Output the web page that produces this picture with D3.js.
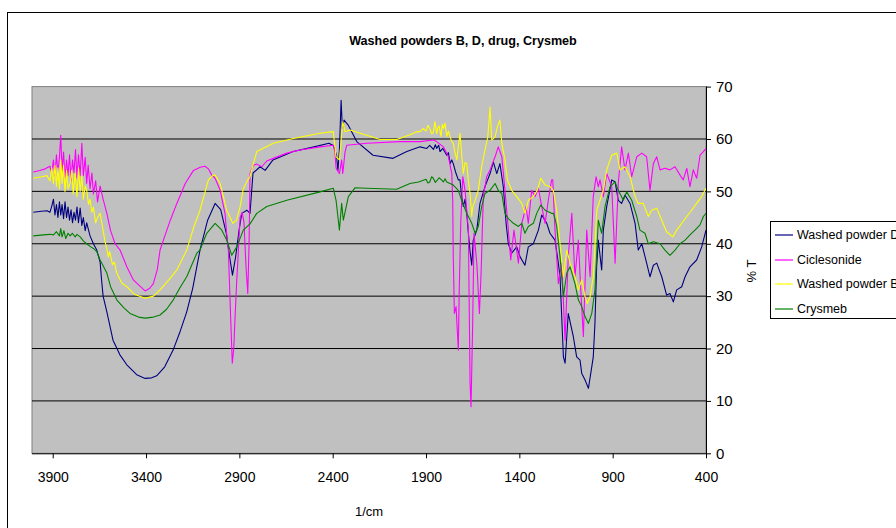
<!DOCTYPE html>
<html>
<head>
<meta charset="utf-8">
<script src="https://cdn.jsdelivr.net/npm/d3@7"></script>
<style>
  html, body { margin: 0; padding: 0; background: #fff; }
  svg { display: block; font-family: "Liberation Sans", Arial, sans-serif; }
</style>
</head>
<body>
<svg id="chart" width="896" height="528"></svg>
<script>
// IR spectra: [wavenumber (1/cm), transmittance (%T)]
const washedPowderD = [
  [4004,46.0],[3960,46.2],[3930,46.3],[3915,46.0],[3905,47.2],[3896,48.5],[3888,45.5],[3880,47.5],[3872,45.0],[3864,48.0],
  [3857,45.5],[3850,47.5],[3842,44.8],[3834,48.0],[3826,45.0],[3818,47.0],[3810,44.5],[3802,46.5],[3794,44.0],[3786,46.0],
  [3778,44.5],[3770,47.0],[3762,44.0],[3753,46.8],[3744,43.5],[3736,45.0],[3726,42.5],[3718,44.0],[3700,41.5],[3682,40.0],
  [3664,38.8],[3646,36.5],[3638,33.0],[3630,30.0],[3610,27.0],[3577,21.6],[3540,18.8],[3503,16.9],[3450,15.0],[3405,14.3],
  [3370,14.4],[3343,14.8],[3300,16.5],[3255,19.7],[3220,23.0],[3182,27.0],[3150,31.5],[3111,38.8],[3070,44.5],[3030,47.7],
  [3000,46.5],[2970,42.0],[2950,37.0],[2937,34.0],[2920,37.5],[2900,43.0],[2887,45.8],[2860,46.4],[2843,45.8],[2827,53.5],
  [2789,54.7],[2762,54.0],[2720,56.0],[2612,57.6],[2500,58.5],[2420,59.2],[2395,58.7],[2380,57.0],[2372,54.0],[2364,58.0],
  [2355,67.4],[2348,62.0],[2339,63.6],[2318,62.7],[2271,59.5],[2184,56.9],[2077,56.3],[2003,57.6],[1932,58.5],[1896,58.2],
  [1880,58.8],[1860,58.0],[1850,58.9],[1843,58.2],[1832,58.8],[1825,57.6],[1810,58.2],[1789,56.9],[1780,57.4],[1771,55.3],
  [1762,56.0],[1754,55.3],[1740,53.5],[1727,52.2],[1718,52.2],[1709,49.0],[1700,47.1],[1691,48.5],[1682,45.8],
  [1673,42.0],[1664,38.5],[1655,35.9],[1647,40.7],[1628,42.6],[1611,47.7],[1584,50.9],[1557,53.4],[1539,55.6],[1521,53.4],
  [1504,55.3],[1486,50.9],[1471,43.9],[1459,40.0],[1441,38.2],[1414,39.4],[1396,37.5],[1370,35.9],[1352,39.4],[1325,40.0],
  [1298,42.6],[1280,45.5],[1253,43.9],[1236,42.0],[1209,40.7],[1191,36.3],[1182,33.7],[1164,18.4],[1155,17.2],[1138,26.7],
  [1111,22.3],[1093,18.4],[1075,17.8],[1066,15.3],[1048,14.0],[1030,12.4],[1012,16.5],[1004,18.4],[995,24.8],[986,35.6],
  [977,40.7],[959,35.0],[950,42.6],[932,47.1],[905,52.2],[887,51.8],[870,48.3],[852,47.7],[834,49.3],[807,47.7],
  [780,43.9],[763,38.8],[744,40.0],[718,36.3],[700,33.7],[682,35.9],[664,36.3],[637,33.7],[611,30.2],[593,30.5],
  [575,28.9],[557,31.2],[530,31.8],[512,33.7],[486,35.6],[450,36.9],[423,39.4],[400,42.6]
];

const ciclesonide = [
  [4004,53.7],[3970,54.0],[3940,54.3],[3915,54.8],[3905,53.5],[3896,56.0],[3888,53.0],[3880,57.0],[3872,53.5],[3864,56.5],
  [3857,60.7],[3850,54.0],[3842,57.5],[3834,52.5],[3826,56.0],[3818,53.0],[3810,57.0],[3802,52.0],[3794,56.0],[3786,53.5],
  [3778,58.0],[3770,52.5],[3762,57.0],[3753,53.0],[3744,59.2],[3736,53.0],[3726,56.5],[3718,51.5],[3710,55.0],[3700,50.5],
  [3690,53.5],[3682,49.5],[3670,52.0],[3660,48.0],[3646,51.0],[3630,48.5],[3610,45.8],[3590,42.5],[3566,40.0],[3539,38.8],
  [3503,35.6],[3468,33.1],[3430,31.8],[3405,31.0],[3380,31.5],[3361,32.4],[3340,35.0],[3325,38.8],[3307,40.7],[3270,44.5],
  [3235,47.7],[3190,51.5],[3146,54.0],[3110,54.6],[3084,54.8],[3066,54.3],[3048,53.1],[3030,52.5],[3003,50.2],[2977,45.8],
  [2968,42.0],[2959,38.8],[2950,29.3],[2938,17.2],[2930,20.0],[2923,26.1],[2914,33.0],[2905,38.8],[2896,45.0],[2885,46.0],
  [2875,44.0],[2865,36.0],[2855,30.5],[2848,40.0],[2843,53.4],[2825,55.0],[2807,55.2],[2780,54.7],[2753,55.8],[2718,56.3],
  [2646,57.3],[2575,57.9],[2468,58.5],[2397,58.8],[2388,57.5],[2382,54.5],[2375,54.0],[2364,53.4],[2352,56.0],[2346,53.4],
  [2334,57.5],[2325,58.8],[2218,59.2],[2039,59.5],[1932,59.5],[1861,59.8],[1843,59.5],[1807,58.5],[1780,56.6],[1762,53.4],
  [1757,48.3],[1754,37.5],[1748,26.7],[1739,28.0],[1727,19.7],[1722,31.2],[1714,43.9],[1703,52.8],[1691,50.2],[1673,42.6],
  [1664,13.4],[1659,8.9],[1650,24.8],[1643,42.0],[1628,36.3],[1614,26.7],[1605,34.4],[1593,49.0],[1575,52.8],[1557,54.1],
  [1530,56.6],[1513,58.5],[1494,56.6],[1477,50.2],[1459,42.6],[1446,36.9],[1429,42.6],[1405,36.3],[1387,43.9],[1364,47.1],
  [1352,43.9],[1334,50.2],[1316,49.0],[1298,50.6],[1280,47.1],[1262,43.9],[1245,48.3],[1227,52.2],[1221,52.2],[1209,42.6],
  [1191,32.4],[1173,36.3],[1155,21.6],[1138,37.5],[1119,45.8],[1102,33.7],[1084,40.7],[1071,31.2],[1057,22.3],[1039,42.6],
  [1021,33.7],[1004,49.0],[989,52.8],[977,50.9],[968,52.2],[950,49.0],[932,53.4],[905,50.9],[887,36.3],[870,51.5],
  [852,58.5],[834,54.1],[816,57.3],[798,52.8],[771,56.6],[744,57.3],[718,56.6],[700,50.2],[682,55.3],[664,56.6],
  [646,54.1],[620,54.4],[593,54.1],[566,54.7],[539,53.1],[522,52.2],[503,54.4],[486,50.9],[468,54.1],[450,52.5],
  [432,56.9],[414,57.6],[400,58.2]
];

const washedPowderB = [
  [4004,52.5],[3960,52.8],[3930,53.0],[3915,52.0],[3905,54.5],[3896,51.5],[3888,55.0],[3880,51.0],[3872,54.5],[3864,50.5],
  [3857,56.0],[3850,51.5],[3842,55.0],[3834,50.0],[3826,54.0],[3818,50.5],[3807,51.5],[3798,54.0],[3790,49.5],[3780,53.5],
  [3770,49.0],[3762,54.5],[3753,50.0],[3744,53.0],[3736,48.5],[3726,51.0],[3718,50.2],[3708,47.5],[3700,48.5],[3690,46.0],
  [3682,47.0],[3670,44.0],[3660,45.0],[3646,45.8],[3630,42.5],[3620,40.5],[3610,39.0],[3602,37.5],[3595,38.5],[3580,36.0],
  [3570,36.5],[3557,34.4],[3530,32.5],[3503,31.8],[3460,30.3],[3405,29.6],[3360,30.0],[3325,31.2],[3280,33.0],[3235,35.0],
  [3182,38.8],[3146,43.0],[3111,46.4],[3066,52.2],[3040,53.1],[3030,53.1],[3003,51.5],[2968,46.4],[2935,43.9],[2915,44.5],
  [2896,47.1],[2879,50.5],[2855,52.2],[2843,52.8],[2825,55.3],[2807,57.6],[2718,59.2],[2611,60.1],[2468,61.1],[2397,61.4],
  [2382,56.6],[2364,56.0],[2346,63.3],[2334,61.4],[2307,61.7],[2218,60.7],[2146,59.9],[2057,59.9],[1986,60.8],[1950,61.4],
  [1932,61.4],[1915,62.0],[1900,61.5],[1890,62.6],[1880,62.0],[1870,61.0],[1861,61.2],[1852,63.3],[1843,61.0],[1836,62.2],
  [1830,62.5],[1820,60.5],[1813,62.8],[1807,62.0],[1798,63.0],[1789,60.5],[1780,61.5],[1771,60.4],[1762,59.5],[1754,59.2],
  [1745,57.5],[1735,56.0],[1727,58.5],[1718,61.1],[1709,57.0],
  [1700,53.4],[1691,55.5],[1682,55.3],[1673,52.0],[1664,49.6],[1655,45.2],[1650,47.0],[1637,48.3],[1620,50.2],[1602,54.7],
  [1584,57.9],[1569,60.4],[1557,66.1],[1548,59.8],[1530,60.4],[1518,62.3],[1504,63.6],[1494,59.2],[1477,56.0],[1464,52.2],
  [1441,50.2],[1414,49.0],[1387,47.7],[1370,45.8],[1352,48.3],[1325,49.0],[1304,50.2],[1285,52.5],[1262,51.2],[1236,50.9],
  [1218,50.2],[1200,46.4],[1182,40.0],[1164,33.7],[1146,38.8],[1128,36.3],[1102,33.7],[1084,31.2],[1066,33.1],[1048,29.9],
  [1036,28.6],[1021,29.9],[1004,33.7],[985,46.4],[968,48.3],[950,50.2],[932,54.1],[905,56.9],[878,57.3],[861,54.1],
  [834,54.7],[807,52.8],[780,49.0],[763,47.7],[736,47.7],[709,45.2],[691,46.4],[664,46.8],[637,44.5],[611,42.3],
  [578,41.3],[557,42.6],[530,43.9],[503,45.2],[477,46.4],[450,47.7],[423,49.0],[400,50.6]
];

const crysmeb = [
  [4004,41.5],[3950,41.7],[3915,41.8],[3896,41.7],[3880,42.3],[3864,41.5],[3857,42.9],[3850,41.3],[3840,42.5],[3830,41.0],
  [3818,42.0],[3807,41.5],[3795,42.0],[3780,41.3],[3770,41.8],[3753,41.3],[3735,40.5],[3718,40.0],[3700,39.5],[3682,39.1],
  [3664,38.5],[3646,36.9],[3610,34.4],[3590,31.8],[3557,29.3],[3520,27.8],[3486,26.7],[3440,26.0],[3405,25.8],[3360,26.0],
  [3325,26.4],[3290,27.5],[3254,29.3],[3220,31.5],[3182,33.7],[3128,38.2],[3111,38.8],[3075,42.0],[3030,43.9],[2994,42.6],
  [2968,40.7],[2941,37.8],[2914,39.4],[2879,42.6],[2843,43.8],[2807,45.8],[2753,47.1],[2646,48.3],[2468,49.9],[2397,50.6],
  [2382,48.3],[2364,42.6],[2352,47.7],[2343,44.5],[2316,49.0],[2280,50.7],[2218,50.6],[2057,50.4],[1986,51.5],[1940,51.8],
  [1900,52.3],[1890,51.6],[1880,51.8],[1870,52.8],[1861,52.5],[1850,51.7],[1843,52.0],[1830,52.6],[1820,52.3],[1807,51.8],
  [1798,52.4],[1789,51.8],[1771,51.5],[1754,51.2],[1727,50.2],
  [1709,48.3],[1682,45.8],[1655,43.9],[1637,42.0],[1620,43.3],[1602,47.1],[1584,49.6],[1557,50.2],[1530,51.5],[1513,50.2],
  [1494,49.6],[1477,45.8],[1459,44.8],[1432,43.9],[1405,43.3],[1387,43.9],[1370,42.0],[1352,43.3],[1325,43.9],[1307,45.8],
  [1285,47.4],[1262,46.4],[1245,46.1],[1227,45.8],[1218,45.8],[1209,44.8],[1200,43.3],[1182,37.5],[1164,29.9],[1146,34.4],
  [1128,35.6],[1102,32.4],[1084,29.3],[1066,28.0],[1048,26.1],[1030,24.8],[1012,26.7],[995,31.2],[977,44.5],[959,42.0],
  [941,47.1],[914,50.9],[887,51.8],[870,50.2],[843,48.3],[825,49.9],[798,48.3],[771,45.2],[754,42.6],[727,42.0],
  [709,40.0],[682,40.4],[646,40.0],[620,38.8],[593,37.8],[566,38.8],[539,40.0],[512,40.7],[486,41.7],[459,42.6],
  [432,43.6],[414,45.2],[400,45.8]
];

const seriesNames = ["Washed powder D", "Ciclesonide", "Washed powder B", "Crysmeb"];
const seriesColors = ["#000080", "#FF00FF", "#FFFF00", "#008000"];
const xTickValues = [3900, 3400, 2900, 2400, 1900, 1400, 900, 400];
const yTickValues = [0, 10, 20, 30, 40, 50, 60, 70];
const chartTitle = "Washed powders B, D, drug, Crysmeb";

const svg = d3.select("#chart");

// outer chart frame
svg.append("rect")
  .attr("x", 7.5).attr("y", 12.5)
  .attr("width", 920).attr("height", 540)
  .attr("fill", "#fff").attr("stroke", "#000").attr("stroke-width", 1);

const plot = { left: 32, right: 706, top: 86.6, bottom: 453.3 };

const x = d3.scaleLinear().domain([4011, 400]).range([plot.left, plot.right]);
const y = d3.scaleLinear().domain([0, 70]).range([plot.bottom, plot.top]);

// plot background
svg.append("rect")
  .attr("x", plot.left).attr("y", plot.top)
  .attr("width", plot.right - plot.left).attr("height", plot.bottom - plot.top)
  .attr("fill", "#C0C0C0").attr("stroke", "#808080").attr("stroke-width", 1);

// horizontal gridlines
svg.append("g").selectAll("line")
  .data(yTickValues.filter(v => v > 0 && v < 70))
  .join("line")
  .attr("x1", plot.left).attr("x2", plot.right)
  .attr("y1", d => y(d)).attr("y2", d => y(d))
  .attr("stroke", "#000").attr("stroke-width", 1);

// spectra
const line = d3.line().x(d => x(d[0])).y(d => y(d[1]));
const allSeries = [washedPowderD, ciclesonide, washedPowderB, crysmeb];
svg.append("clipPath").attr("id", "plotClip").append("rect")
  .attr("x", plot.left).attr("y", plot.top)
  .attr("width", plot.right - plot.left).attr("height", plot.bottom - plot.top);
svg.append("g").attr("clip-path", "url(#plotClip)")
  .selectAll("path")
  .data(allSeries)
  .join("path")
  .attr("d", d => line(d))
  .attr("fill", "none")
  .attr("stroke", (d, i) => seriesColors[i])
  .attr("stroke-width", 1.1)
  .attr("stroke-linejoin", "round");

// bottom axis
const xAxis = svg.append("g")
  .attr("transform", `translate(0,${plot.bottom})`)
  .call(d3.axisBottom(x).tickValues(xTickValues).tickFormat(d3.format("d")).tickSize(5).tickPadding(14));
xAxis.select(".domain").attr("stroke", "#000").attr("d", `M${plot.left},0.5H${plot.right}`);
xAxis.selectAll(".tick line").attr("stroke", "#000");
xAxis.selectAll("text").attr("font-size", 14).attr("fill", "#000");

// right axis
const yAxis = svg.append("g")
  .attr("transform", `translate(${plot.right},0)`)
  .call(d3.axisRight(y).tickValues(yTickValues).tickSize(5).tickPadding(5));
yAxis.select(".domain").attr("stroke", "#000").attr("d", `M0.5,${plot.top}V${plot.bottom}`);
yAxis.selectAll(".tick line").attr("stroke", "#000");
yAxis.selectAll("text").attr("font-size", 15).attr("fill", "#000");

// titles
svg.append("text")
  .attr("x", 463).attr("y", 45)
  .attr("text-anchor", "middle")
  .attr("font-size", 12.6).attr("font-weight", "bold")
  .text(chartTitle);

svg.append("text")
  .attr("x", 369).attr("y", 516)
  .attr("text-anchor", "middle")
  .attr("font-size", 13)
  .text("1/cm");

svg.append("text")
  .attr("transform", "translate(756,271) rotate(-90)")
  .attr("text-anchor", "middle")
  .attr("font-size", 13)
  .text("% T");

// legend (box runs past the right edge of the frame)
const legend = svg.append("g");
legend.append("rect")
  .attr("x", 770.5).attr("y", 221.5)
  .attr("width", 140).attr("height", 97)
  .attr("fill", "#fff").attr("stroke", "#000").attr("stroke-width", 1);
const legendY = [235, 260, 284, 309];
const items = legend.selectAll("g.item")
  .data(seriesNames)
  .join("g").attr("class", "item")
  .attr("transform", (d, i) => `translate(0,${legendY[i]})`);
items.append("line")
  .attr("x1", 775).attr("x2", 793).attr("y1", 0).attr("y2", 0)
  .attr("stroke", (d, i) => seriesColors[i]).attr("stroke-width", 1.2);
items.append("text")
  .attr("x", 797).attr("y", 0).attr("dy", "0.35em")
  .attr("font-size", 12.5)
  .text(d => d);
</script>
</body>
</html>
